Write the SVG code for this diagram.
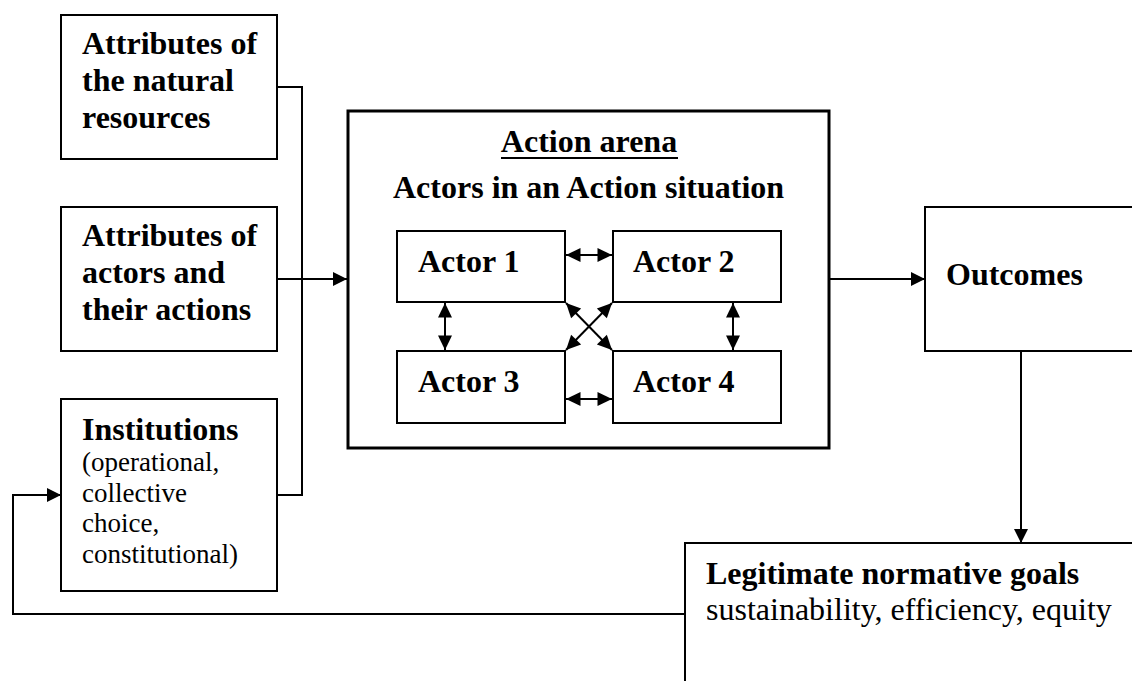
<svg xmlns="http://www.w3.org/2000/svg" width="1132" height="681" viewBox="0 0 1132 681">
  <style>
    .box { fill: #fff; stroke: #000; stroke-width: 2; }
    .arena { fill: #fff; stroke: #000; stroke-width: 3; }
    .b { font-family: "Liberation Serif", "Times New Roman", serif; font-weight: bold; font-size: 32px; fill: #000; }
    .r { font-family: "Liberation Serif", "Times New Roman", serif; font-size: 32px; fill: #000; }
    .s { font-family: "Liberation Serif", "Times New Roman", serif; font-size: 27px; fill: #000; }
    .ln { fill: none; stroke: #000; stroke-width: 2; }
  </style>
  <defs>
    <marker id="arr" markerUnits="userSpaceOnUse" markerWidth="16" markerHeight="16" viewBox="0 0 16 16" refX="15" refY="8" orient="auto-start-reverse">
      <path d="M1,1 L15,8 L1,15 Z" fill="#000"/>
    </marker>
    <marker id="arrS" markerUnits="userSpaceOnUse" markerWidth="16" markerHeight="15" viewBox="0 0 16 15" refX="15" refY="7.5" orient="auto-start-reverse">
      <path d="M0.5,0.5 L15,7.5 L0.5,14.5 Z" fill="#000"/>
    </marker>
  </defs>

  <!-- input boxes -->
  <g id="natural-resources">
    <rect class="box" x="61" y="15" width="216" height="144"/>
    <text class="b" x="82" y="54">Attributes of</text>
    <text class="b" x="82" y="91">the natural</text>
    <text class="b" x="82" y="128">resources</text>
  </g>
  <g id="actor-attributes">
    <rect class="box" x="61" y="207" width="216" height="144"/>
    <text class="b" x="82" y="246">Attributes of</text>
    <text class="b" x="82" y="283">actors and</text>
    <text class="b" x="82" y="320">their actions</text>
  </g>
  <g id="institutions">
    <rect class="box" x="61" y="399" width="216" height="192"/>
    <text class="b" x="82" y="440">Institutions</text>
    <text class="s" x="82" y="471">(operational,</text>
    <text class="s" x="82" y="502">collective</text>
    <text class="s" x="82" y="532">choice,</text>
    <text class="s" x="82" y="563">constitutional)</text>
  </g>

  <!-- action arena with the four actors -->
  <g id="action-arena">
    <rect class="arena" x="348" y="111" width="481" height="337"/>
    <text class="b" x="589" y="152" text-anchor="middle">Action arena</text>
    <line x1="501" y1="158" x2="678" y2="158" stroke="#000" stroke-width="2"/>
    <text class="b" x="393" y="198">Actors in an Action situation</text>
  </g>
  <g id="actor-1">
    <rect class="box" x="397" y="231" width="168" height="71"/>
    <text class="b" x="418" y="272">Actor 1</text>
  </g>
  <g id="actor-2">
    <rect class="box" x="613" y="231" width="168" height="71"/>
    <text class="b" x="633" y="272">Actor 2</text>
  </g>
  <g id="actor-3">
    <rect class="box" x="397" y="351" width="168" height="72"/>
    <text class="b" x="418" y="392">Actor 3</text>
  </g>
  <g id="actor-4">
    <rect class="box" x="613" y="351" width="168" height="72"/>
    <text class="b" x="633" y="392">Actor 4</text>
  </g>

  <!-- outcomes and evaluation -->
  <g id="outcomes">
    <rect class="box" x="925" y="207" width="220" height="144"/>
    <text class="b" x="946" y="285">Outcomes</text>
  </g>
  <g id="normative-goals">
    <rect class="box" x="685" y="543" width="460" height="150"/>
    <text class="b" x="706" y="584">Legitimate normative goals</text>
    <text class="r" x="706" y="620">sustainability, efficiency, equity</text>
  </g>

  <g id="connectors">
    <!-- inputs merge into the arena -->
    <polyline class="ln" points="277,87 302,87 302,495 277,495"/>
    <line class="ln" x1="277" y1="279" x2="347" y2="279" marker-end="url(#arr)"/>
    <!-- arena to outcomes to goals -->
    <line class="ln" x1="829" y1="279" x2="925" y2="279" marker-end="url(#arr)"/>
    <line class="ln" x1="1021" y1="351" x2="1021" y2="543" marker-end="url(#arr)"/>
    <!-- feedback to institutions -->
    <polyline class="ln" points="685,614 13,614 13,495 61,495" marker-end="url(#arr)"/>
    <!-- actor interactions -->
    <line class="ln" x1="566" y1="255" x2="612" y2="255" marker-start="url(#arrS)" marker-end="url(#arrS)"/>
    <line class="ln" x1="566" y1="399" x2="612" y2="399" marker-start="url(#arrS)" marker-end="url(#arrS)"/>
    <line class="ln" x1="445" y1="303" x2="445" y2="350" marker-start="url(#arrS)" marker-end="url(#arrS)"/>
    <line class="ln" x1="733" y1="303" x2="733" y2="350" marker-start="url(#arrS)" marker-end="url(#arrS)"/>
    <line class="ln" x1="566" y1="303" x2="612" y2="350" marker-start="url(#arrS)" marker-end="url(#arrS)"/>
    <line class="ln" x1="612" y1="303" x2="566" y2="350" marker-start="url(#arrS)" marker-end="url(#arrS)"/>
  </g>
</svg>
